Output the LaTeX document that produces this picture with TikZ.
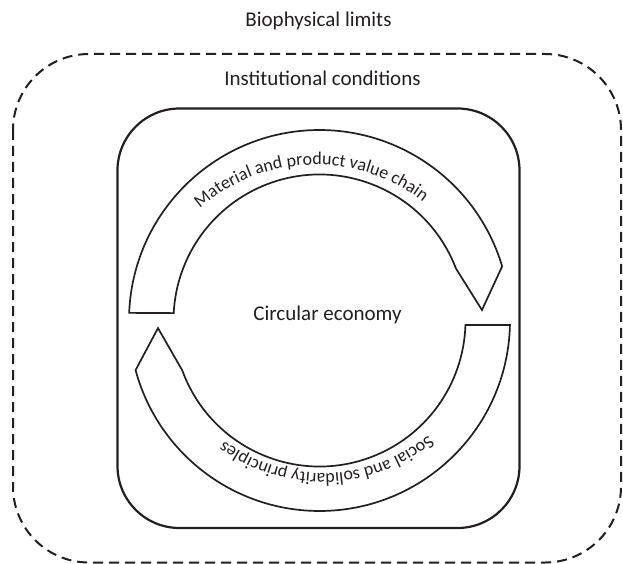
\documentclass[tikz,border=0pt]{standalone}
\usepackage{fontspec}
\setmainfont{Carlito}
\usetikzlibrary{decorations.text}
\definecolor{ink}{HTML}{231F20}
\begin{document}
\begin{tikzpicture}[x=1pt,y=1pt,
  lbl/.style={anchor=base, inner sep=0pt, text=ink, font=\fontsize{21}{25}\selectfont},
  band/.style={draw=ink, line width=1.7pt, fill=white, line join=miter},
  outerbox/.style={draw=ink, line width=2pt, dash pattern=on 10pt off 6pt, rounded corners=76pt},
  innerbox/.style={draw=ink, line width=2.2pt, rounded corners=62pt},
  curvedtext/.style={decorate, decoration={text along path, text align=center, text color=ink}}]
\useasboundingbox (0,0) rectangle (623,-564);
% boundaries
\draw[outerbox] (13,-54) rectangle (621,-562.5);
\draw[innerbox] (117.5,-108.5) rectangle (519.5,-528);
% labels
\node[lbl] (bio) at (318.5,-26.7) {Biophysical limits};
\node[lbl] (inst) at (322.5,-86) {Institutional conditions};
\node[lbl] (ce) at (327.5,-320) {Circular economy};
% bands with pointed ends
\begin{scope}[shift={(319.5,-320.5)}]
  \draw[band] (177.7:190.5) arc[start angle=177.7, end angle=16.5, radius=190.5]
     -- (3.7:162.8) -- (20.9:146) arc[start angle=20.9, end angle=177.1, radius=146] -- cycle;
  \draw[band] (-1.35:190.5) arc[start angle=-1.35, end angle=-164.9, radius=190.5]
     -- (182.7:161.7) -- (-160:146) arc[start angle=-160, end angle=-1.77, radius=146] -- cycle;
\end{scope}
% curved texts
\begin{scope}[shift={(315.6,-339.8)}]
  \path[curvedtext, decoration={text={|\fontsize{18}{20}\selectfont|Material and product value chain}}]
    (171.7:175) arc[start angle=171.7, end angle=11.7, radius=175];
\end{scope}
\begin{scope}[shift={(322.5,-308.4)}]
  \path[curvedtext, decoration={text={|\fontsize{18}{20}\selectfont|Social and solidarity principles}}]
    (1.7:165) arc[start angle=1.7, end angle=-178.3, radius=165];
\end{scope}
\end{tikzpicture}
\end{document}
